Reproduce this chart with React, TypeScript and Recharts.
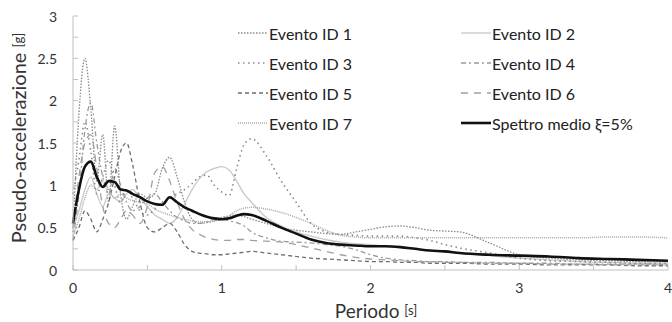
import React from "react";
import { LineChart, Line, XAxis, YAxis, Legend, Label } from "recharts";

const periods = [0, 0.04, 0.08, 0.12, 0.16, 0.2, 0.24, 0.28, 0.32, 0.36, 0.4, 0.45, 0.5, 0.55, 0.6, 0.65, 0.7, 0.75, 0.8, 0.85, 0.9, 0.95, 1.0, 1.05, 1.1, 1.15, 1.2, 1.3, 1.4, 1.5, 1.6, 1.7, 1.8, 1.9, 2.0, 2.1, 2.2, 2.3, 2.4, 2.5, 2.6, 2.8, 3.0, 3.2, 3.4, 3.6, 3.8, 4.0];

const ev1 = [0.45, 1.85, 2.5, 1.9, 1.05, 1.6, 0.8, 1.7, 0.9, 0.6, 0.75, 0.9, 0.85, 0.9, 1.2, 1.33, 1.1, 0.8, 0.6, 0.55, 0.56, 0.58, 0.62, 0.64, 0.65, 0.63, 0.6, 0.55, 0.5, 0.47, 0.45, 0.43, 0.42, 0.45, 0.48, 0.51, 0.52, 0.5, 0.47, 0.46, 0.45, 0.32, 0.18, 0.14, 0.12, 0.11, 0.1, 0.1];
const ev2 = [0.5, 0.7, 0.95, 1.1, 0.9, 0.75, 0.9, 0.85, 0.8, 0.9, 0.95, 0.85, 0.75, 0.65, 0.6, 0.55, 0.62, 0.78, 0.95, 1.08, 1.16, 1.2, 1.22, 1.18, 1.05, 0.9, 0.8, 0.62, 0.52, 0.45, 0.4, 0.36, 0.33, 0.31, 0.3, 0.28, 0.27, 0.25, 0.23, 0.21, 0.2, 0.17, 0.14, 0.12, 0.1, 0.09, 0.08, 0.08];
const ev3 = [0.9, 1.3, 1.75, 1.4, 0.9, 1.1, 1.3, 1.0, 0.8, 0.95, 0.85, 0.7, 0.65, 0.72, 0.8, 0.85, 0.9, 0.95, 1.02, 1.1, 1.12, 1.0, 0.92, 0.88, 1.2, 1.48, 1.55, 1.35, 1.05, 0.8, 0.55, 0.45, 0.42, 0.41, 0.4, 0.4, 0.4, 0.38, 0.35, 0.3, 0.26, 0.2, 0.14, 0.11, 0.1, 0.09, 0.08, 0.08];
const ev4 = [0.35, 0.9, 1.65, 1.98, 1.5, 1.1, 0.9, 1.2, 1.0, 0.8, 0.7, 0.75, 0.85, 0.9, 0.8, 0.7, 0.62, 0.58, 0.55, 0.55, 0.57, 0.6, 0.6, 0.58, 0.56, 0.52, 0.45, 0.38, 0.34, 0.33, 0.32, 0.3, 0.28, 0.24, 0.18, 0.14, 0.12, 0.11, 0.1, 0.1, 0.09, 0.09, 0.08, 0.08, 0.07, 0.07, 0.07, 0.06];
const ev5 = [0.35, 0.5, 0.7, 0.6, 0.45, 0.6, 0.8, 1.1, 1.4, 1.5, 1.25, 0.8, 0.5, 0.45, 0.5, 0.55, 0.45, 0.3, 0.22, 0.2, 0.19, 0.18, 0.18, 0.19, 0.2, 0.21, 0.22, 0.2, 0.18, 0.16, 0.14, 0.13, 0.12, 0.11, 0.1, 0.1, 0.09, 0.09, 0.08, 0.08, 0.08, 0.07, 0.07, 0.06, 0.06, 0.06, 0.05, 0.05];
const ev6 = [0.5, 1.1, 1.5, 1.6, 1.2, 0.75, 0.55, 0.5, 0.6, 0.7, 0.65, 0.55, 0.75, 1.15, 1.22, 1.05, 0.8, 0.6, 0.48, 0.42, 0.38, 0.36, 0.35, 0.35, 0.36, 0.36, 0.35, 0.34, 0.33, 0.3, 0.26, 0.22, 0.18, 0.15, 0.13, 0.12, 0.11, 0.1, 0.1, 0.09, 0.09, 0.08, 0.08, 0.07, 0.07, 0.06, 0.06, 0.06];
const ev7 = [0.4, 0.6, 0.85, 1.0, 0.95, 1.05, 0.95, 0.85, 0.9, 0.85, 0.82, 0.8, 0.78, 0.72, 0.68, 0.65, 0.62, 0.6, 0.58, 0.57, 0.57, 0.58, 0.6, 0.64, 0.7, 0.73, 0.74, 0.72, 0.68, 0.62, 0.55, 0.47, 0.41, 0.39, 0.38, 0.38, 0.38, 0.38, 0.38, 0.38, 0.38, 0.38, 0.38, 0.38, 0.38, 0.39, 0.39, 0.38];
const mean = [0.55, 0.95, 1.22, 1.28, 1.1, 0.98, 1.05, 1.04, 0.95, 0.94, 0.9, 0.86, 0.81, 0.78, 0.77, 0.86, 0.8, 0.74, 0.7, 0.66, 0.63, 0.61, 0.6, 0.61, 0.64, 0.66, 0.65, 0.58, 0.5, 0.43, 0.36, 0.32, 0.3, 0.29, 0.28, 0.28, 0.27, 0.25, 0.23, 0.22, 0.2, 0.18, 0.17, 0.16, 0.14, 0.13, 0.12, 0.11];

const seriesNames = ["Evento ID 1", "Evento ID 2", "Evento ID 3", "Evento ID 4", "Evento ID 5", "Evento ID 6", "Evento ID 7", "Spettro medio ξ=5%"];
const seriesValues = [ev1, ev2, ev3, ev4, ev5, ev6, ev7, mean];

const yTicks = [0, 0.25, 0.5, 0.75, 1, 1.25, 1.5, 1.75, 2, 2.25, 2.5, 2.75, 3];
const xTicks = [0, 0.5, 1, 1.5, 2, 2.5, 3, 3.5, 4];

const styles = [
  { stroke: "#8a8a8a", width: 1.3, dash: "1.5 1.5" },
  { stroke: "#c8c8c8", width: 1.3, dash: undefined },
  { stroke: "#8a8a8a", width: 1.6, dash: "1.5 3.5" },
  { stroke: "#9a9a9a", width: 1.3, dash: "5 3 2 3" },
  { stroke: "#6e6e6e", width: 1.3, dash: "4 3" },
  { stroke: "#a0a0a0", width: 1.3, dash: "7 6" },
  { stroke: "#aaaaaa", width: 1.5, dash: "1 1" },
  { stroke: "#111111", width: 2.6, dash: undefined },
];

const keys = seriesNames.map((_, i) => "s" + i);
const data = periods.map((p, j) => {
  const row: Record<string, number> = { T: p };
  seriesValues.forEach((vals, i) => {
    row[keys[i]] = vals[j];
  });
  return row;
});

const FONT = "Lato, 'Open Sans', sans-serif";

const YTick = (props: any) => {
  const { x, y, payload } = props;
  const v = payload.value as number;
  const show = Math.abs(v * 2 - Math.round(v * 2)) < 1e-6;
  return (
    <g>
      <line x1={x} x2={x + 5} y1={y} y2={y} stroke="#c0c0c0" />
      {show && (
        <text x={x - 16} y={y} textAnchor="end" dominantBaseline="central" fontSize={14} fill="#333" fontFamily={FONT}>
          {String(v)}
        </text>
      )}
    </g>
  );
};

const XTick = (props: any) => {
  const { x, y, payload } = props;
  const v = payload.value as number;
  const show = Math.abs(v - Math.round(v)) < 1e-6;
  return (
    <g>
      <line x1={x} x2={x} y1={y} y2={y - 5} stroke="#c0c0c0" />
      {show && (
        <text x={x} y={y + 17} textAnchor="middle" dominantBaseline="central" fontSize={14} fill="#333" fontFamily={FONT}>
          {String(v)}
        </text>
      )}
    </g>
  );
};

const LegendContent = () => (
  <div style={{ display: "grid", gridTemplateColumns: "223px 200px", rowGap: 0, fontFamily: FONT, fontSize: 16, color: "#222" }}>
    {seriesNames.map((name, i) => (
      <div key={name} style={{ display: "flex", alignItems: "center", height: 30 }}>
        <svg width={30} height={10} style={{ marginRight: 1 }}>
          <line x1={0} x2={30} y1={5} y2={5} stroke={styles[i].stroke} strokeWidth={styles[i].width} strokeDasharray={styles[i].dash} />
        </svg>
        <span>{name}</span>
      </div>
    ))}
  </div>
);

const YLabel = () => (
  <text x={18} y={138} transform="rotate(-90, 18, 138)" textAnchor="middle" dominantBaseline="central" fill="#333" fontFamily={FONT}>
    <tspan fontSize={20}>Pseudo-accelerazione </tspan>
    <tspan fontSize={13}>[g]</tspan>
  </text>
);

const XLabel = () => (
  <text x={376} y={310} textAnchor="middle" dominantBaseline="central" fill="#333" fontFamily={FONT}>
    <tspan fontSize={19}>Periodo </tspan>
    <tspan fontSize={13}>[s]</tspan>
  </text>
);

export default function App() {
  return (
    <div style={{ width: 672, height: 322, background: "#fff" }}>
      <style>{`body{margin:0}`}</style>
      <LineChart width={672} height={322} data={data} margin={{ top: 16, right: 4, left: 0, bottom: 0 }}>
        <XAxis
          dataKey="T"
          type="number"
          domain={[0, 4]}
          ticks={xTicks}
          interval={0}
          height={52}
          tickSize={0}
          tickMargin={0}
          tick={<XTick />}
          axisLine={{ stroke: "#c0c0c0" }}
          tickLine={false}
        >
          <Label content={<XLabel />} />
        </XAxis>
        <XAxis xAxisId="top" orientation="top" type="number" domain={[0, 4]} height={0} tick={false} tickLine={false} axisLine={{ stroke: "#c8c8c8" }} />
        <YAxis
          type="number"
          domain={[0, 3]}
          ticks={yTicks}
          interval={0}
          width={73}
          tickSize={0}
          tickMargin={0}
          tick={<YTick />}
          axisLine={{ stroke: "#c0c0c0" }}
          tickLine={false}
        >
          <Label content={<YLabel />} />
        </YAxis>
        <YAxis yAxisId="right" orientation="right" type="number" domain={[0, 3]} width={0} tick={false} tickLine={false} axisLine={{ stroke: "#c8c8c8" }} />
        <Legend
          layout="horizontal"
          verticalAlign="middle"
          align="center"
          content={<LegendContent />}
          wrapperStyle={{ position: "absolute", top: 18, left: 238, width: 430, height: 120 }}
        />
        {keys.map((k, i) => (
          <Line
            key={k}
            dataKey={k}
            name={seriesNames[i]}
            type="monotone"
            stroke={styles[i].stroke}
            strokeWidth={styles[i].width}
            strokeDasharray={styles[i].dash}
            dot={false}
            activeDot={false}
            isAnimationActive={false}
          />
        ))}
      </LineChart>
    </div>
  );
}
